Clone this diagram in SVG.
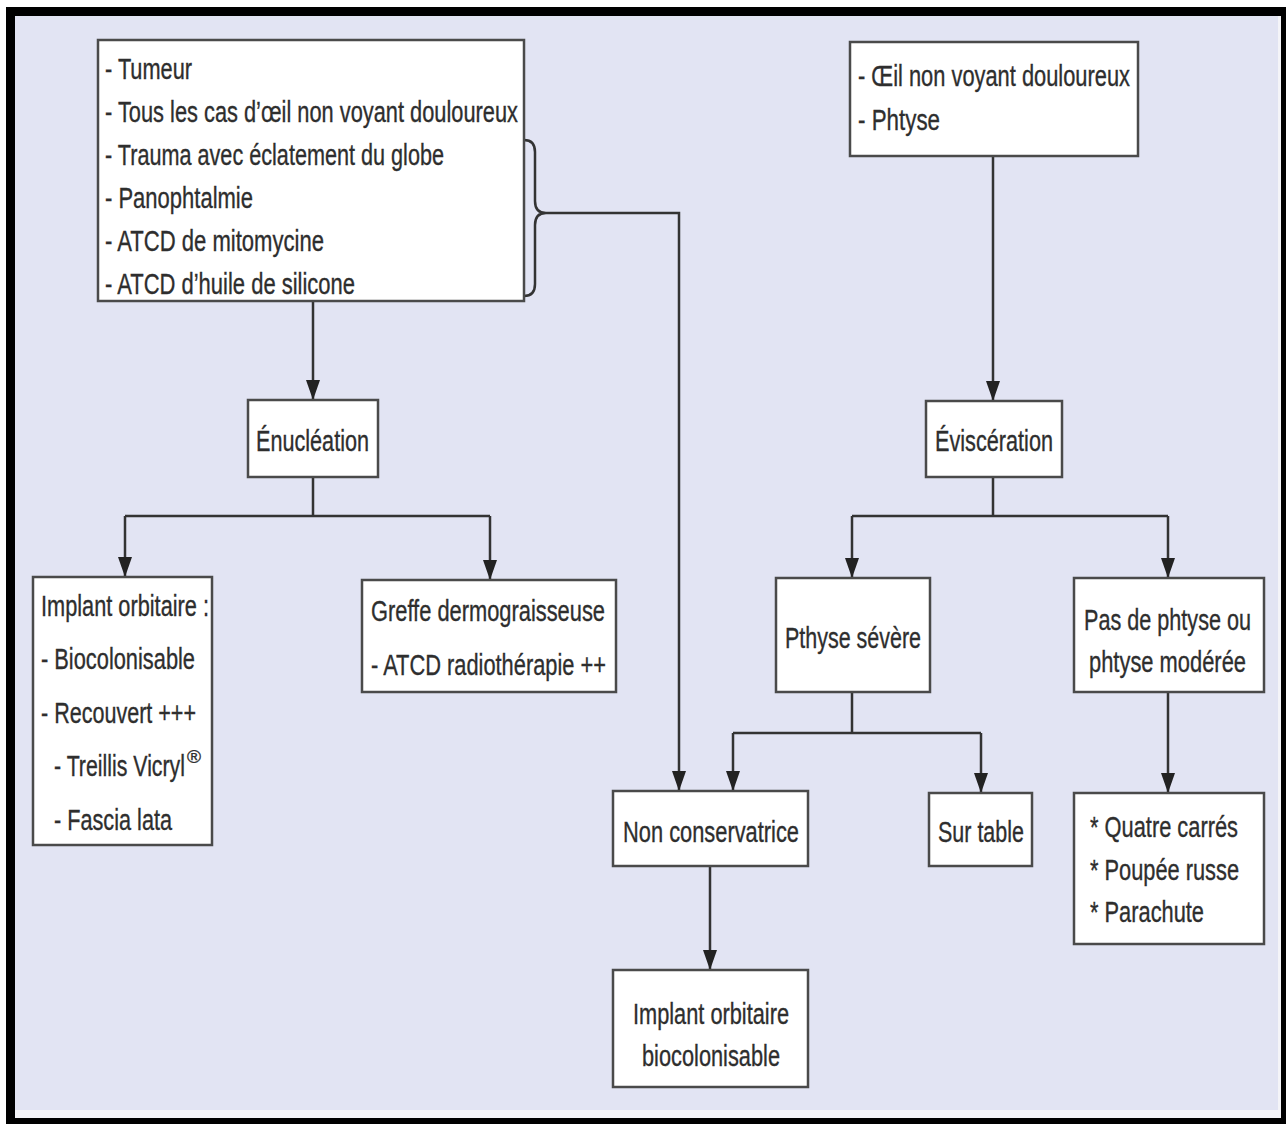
<svg xmlns="http://www.w3.org/2000/svg" width="1286" height="1124" viewBox="0 0 1286 1124">
<style>
.box{fill:#ffffff;stroke:#4a4a4a;stroke-width:2.5}
.t{font-family:"Liberation Sans Narrow","Liberation Sans",Arial,sans-serif;font-size:30px;fill:#2e2e2e;stroke:#2e2e2e;stroke-width:0.35}
.c{fill:none;stroke:#333333;stroke-width:2.5}
.ca{fill:none;stroke:#333333;stroke-width:2.5;marker-end:url(#arr)}
</style>
<defs>
<marker id="arr" markerWidth="22" markerHeight="14" refX="20" refY="7" orient="auto" markerUnits="userSpaceOnUse">
<path d="M0,0 L20,7 L0,14 z" fill="#222222"/>
</marker>
</defs>
<rect x="0" y="0" width="1286" height="1124" fill="#ffffff"/>
<rect x="6" y="7" width="1280" height="1117" fill="#000000"/>
<rect x="15" y="16" width="1266" height="1102" fill="#f4f4f8"/>
<rect x="15" y="16" width="1263" height="1094" fill="#e2e4f3"/>

<g id="connectors">
<path class="ca" d="M313,301 V400"/>
<path class="c" d="M313,477 V516 M125,516 H490"/>
<path class="ca" d="M125,516 V577"/>
<path class="ca" d="M490,516 V580"/>
<path class="c" d="M524,140 Q535,140 535,152 V201 Q535,213 546,213 Q535,213 535,225 V284 Q535,296 524,296"/>
<path class="ca" d="M546,213 H679 V791"/>
<path class="ca" d="M993,156 V401"/>
<path class="c" d="M993,477 V516 M852,516 H1168"/>
<path class="ca" d="M852,516 V578"/>
<path class="ca" d="M1168,516 V578"/>
<path class="c" d="M852,692 V733 M733,733 H981"/>
<path class="ca" d="M733,733 V791"/>
<path class="ca" d="M981,733 V793"/>
<path class="ca" d="M1168,692 V793"/>
<path class="ca" d="M710,866 V970"/>
</g>

<g id="n-indications-enucleation">
<rect class="box" x="98" y="40" width="426" height="261"/>
<text class="t" x="105" y="79" textLength="87" lengthAdjust="spacingAndGlyphs">- Tumeur</text>
<text class="t" x="105" y="122" textLength="413" lengthAdjust="spacingAndGlyphs">- Tous les cas d’œil non voyant douloureux</text>
<text class="t" x="105" y="165" textLength="339" lengthAdjust="spacingAndGlyphs">- Trauma avec éclatement du globe</text>
<text class="t" x="105" y="208" textLength="148" lengthAdjust="spacingAndGlyphs">- Panophtalmie</text>
<text class="t" x="105" y="251" textLength="219" lengthAdjust="spacingAndGlyphs">- ATCD de mitomycine</text>
<text class="t" x="105" y="294" textLength="250" lengthAdjust="spacingAndGlyphs">- ATCD d’huile de silicone</text>
</g>

<g id="n-indications-evisceration">
<rect class="box" x="850" y="42" width="288" height="114"/>
<text class="t" x="858" y="86" textLength="272" lengthAdjust="spacingAndGlyphs">- Œil non voyant douloureux</text>
<text class="t" x="858" y="130" textLength="82" lengthAdjust="spacingAndGlyphs">- Phtyse</text>
</g>

<g id="n-enucleation">
<rect class="box" x="248" y="400" width="130" height="77"/>
<text class="t" x="256" y="451" textLength="113" lengthAdjust="spacingAndGlyphs">Énucléation</text>
</g>

<g id="n-evisceration">
<rect class="box" x="926" y="401" width="136" height="76"/>
<text class="t" x="935" y="451" textLength="118" lengthAdjust="spacingAndGlyphs">Éviscération</text>
</g>

<g id="n-implant-orbitaire">
<rect class="box" x="33" y="577" width="179" height="268"/>
<text class="t" x="41" y="616" textLength="168" lengthAdjust="spacingAndGlyphs">Implant orbitaire :</text>
<text class="t" x="41" y="669" textLength="154" lengthAdjust="spacingAndGlyphs">- Biocolonisable</text>
<text class="t" x="41" y="723" textLength="155" lengthAdjust="spacingAndGlyphs">- Recouvert +++</text>
<text class="t" x="54" y="776"><tspan textLength="131" lengthAdjust="spacingAndGlyphs">- Treillis Vicryl</tspan><tspan dx="2" dy="-13" style="font-size:19px">®</tspan></text>
<text class="t" x="54" y="830" textLength="118" lengthAdjust="spacingAndGlyphs">- Fascia lata</text>
</g>

<g id="n-greffe">
<rect class="box" x="362" y="580" width="254" height="112"/>
<text class="t" x="371" y="621" textLength="234" lengthAdjust="spacingAndGlyphs">Greffe dermograisseuse</text>
<text class="t" x="371" y="675" textLength="235" lengthAdjust="spacingAndGlyphs">- ATCD radiothérapie ++</text>
</g>

<g id="n-pthyse-severe">
<rect class="box" x="776" y="578" width="154" height="114"/>
<text class="t" x="785" y="648" textLength="136" lengthAdjust="spacingAndGlyphs">Pthyse sévère</text>
</g>

<g id="n-pas-de-phtyse">
<rect class="box" x="1074" y="578" width="190" height="114"/>
<text class="t" x="1084" y="630" textLength="167" lengthAdjust="spacingAndGlyphs">Pas de phtyse ou</text>
<text class="t" x="1089" y="672" textLength="157" lengthAdjust="spacingAndGlyphs">phtyse modérée</text>
</g>

<g id="n-non-conservatrice">
<rect class="box" x="613" y="791" width="195" height="75"/>
<text class="t" x="623" y="842" textLength="176" lengthAdjust="spacingAndGlyphs">Non conservatrice</text>
</g>

<g id="n-sur-table">
<rect class="box" x="929" y="793" width="103" height="73"/>
<text class="t" x="938" y="842" textLength="86" lengthAdjust="spacingAndGlyphs">Sur table</text>
</g>

<g id="n-techniques">
<rect class="box" x="1074" y="793" width="190" height="151"/>
<text class="t" x="1090" y="837" textLength="148" lengthAdjust="spacingAndGlyphs">* Quatre carrés</text>
<text class="t" x="1090" y="880" textLength="149" lengthAdjust="spacingAndGlyphs">* Poupée russe</text>
<text class="t" x="1090" y="922" textLength="114" lengthAdjust="spacingAndGlyphs">* Parachute</text>
</g>

<g id="n-implant-biocolonisable">
<rect class="box" x="613" y="970" width="195" height="117"/>
<text class="t" x="633" y="1024" textLength="156" lengthAdjust="spacingAndGlyphs">Implant orbitaire</text>
<text class="t" x="642" y="1066" textLength="138" lengthAdjust="spacingAndGlyphs">biocolonisable</text>
</g>
</svg>
